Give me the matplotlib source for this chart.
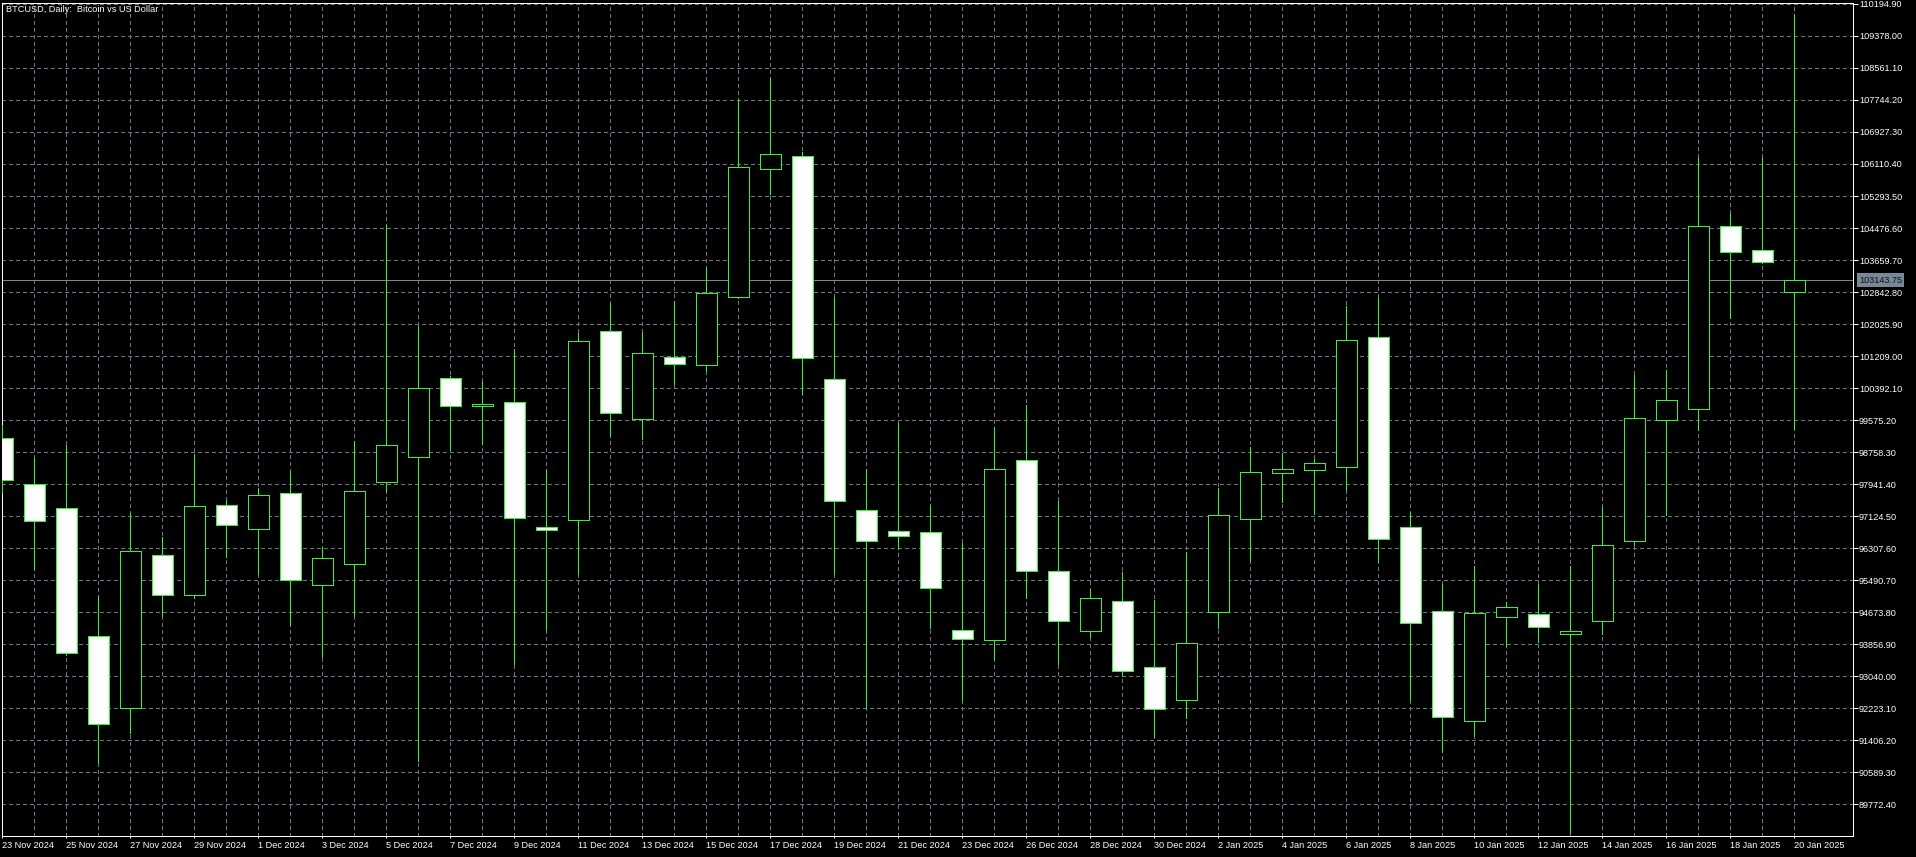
import numpy as np
import pandas as pd
import matplotlib
matplotlib.use('Agg')
import matplotlib.pyplot as plt
from matplotlib.ticker import FixedLocator

plt.rcParams['font.family'] = ['Liberation Sans', 'DejaVu Sans']

W, H, DPI = 1916, 857, 100
PX = 72.0 / DPI  # one pixel in points

# daily bars, the feed has no bar for 25 Dec and 1 Jan
dates = [d for d in pd.date_range('2024-11-23', '2025-01-20')
         if d.strftime('%m-%d') not in ('12-25', '01-01')]

opens = [99128, 97931, 97339, 94069, 92223, 96119, 95118, 97395, 96780, 97704,
         95355, 95892, 98000, 98628, 100655, 99933, 100022, 96854, 97012, 101857,
         99611, 101183, 100969, 102713, 105993, 106325, 100614, 97265, 96752, 96711,
         94204, 93951, 98544, 95731, 94191, 94944, 93270, 92415, 94671, 97040,
         98215, 98294, 98386, 101702, 96851, 94702, 91891, 94554, 94633, 94120,
         94444, 96486, 99580, 99851, 104528, 103905, 102850]
highs = [99450, 98605, 98935, 95072, 97204, 96599, 98717, 97533, 97829, 98286,
         96325, 99049, 104553, 101967, 100699, 100581, 101390, 98301, 101788, 102562,
         101822, 102608, 103486, 107772, 108296, 106417, 102723, 98335, 99509, 97395,
         96448, 99399, 99968, 97520, 95263, 95685, 94978, 96208, 97827, 98886,
         98738, 98590, 102478, 102715, 97216, 95378, 95838, 94919, 95378, 95838,
         97352, 100729, 100864, 106284, 104852, 106284, 109932]
lows = [97700, 95777, 93576, 90822, 91585, 94582, 95036, 96086, 95641, 94352,
        93522, 94559, 97773, 90878, 98820, 98963, 93344, 94209, 95646, 99167,
        99098, 100499, 100819, 102690, 105345, 100239, 95634, 92215, 96285, 94260,
        92415, 93474, 95034, 93359, 94033, 93040, 91480, 91958, 94260, 95968,
        97474, 97178, 97793, 95948, 92417, 91108, 91513, 93808, 93918, 89032,
        94107, 96377, 97160, 99322, 102189, 103580, 99351]
closes = [98038, 96997, 93625, 91822, 96223, 95105, 97372, 96895, 97671, 95493,
          96040, 97773, 98947, 100382, 99925, 99971, 97071, 96762, 101584, 99749,
          101298, 101002, 102815, 106029, 106358, 101150, 97502, 96489, 96614, 95287,
          93987, 98317, 95718, 94442, 95024, 93165, 92208, 93872, 97142, 98238,
          98317, 98478, 101610, 96540, 94403, 91999, 94661, 94809, 94296, 94189,
          96377, 99634, 100093, 104540, 103864, 103609, 103143.75]

last_price = 103143.75
price_ticks = [89772.40, 90589.30, 91406.20, 92223.10, 93040.00, 93856.90, 94673.80,
               95490.70, 96307.60, 97124.50, 97941.40, 98758.30, 99575.20, 100392.10,
               101209.00, 102025.90, 102842.80, 103659.70, 104476.60, 105293.50,
               106110.40, 106927.30, 107744.20, 108561.10, 109378.00, 110194.90]
title = 'BTCUSD, Daily:  Bitcoin vs US Dollar'

BG = 'black'
FG = 'white'
GRID = '#70767e'
BIDLINE = '#778899'
GREEN = '#38f038'
FS = 6.6

fig = plt.figure(figsize=(W / DPI, H / DPI), dpi=DPI, facecolor=BG)
# plot frame in pixels: x 2..1853, y 3..836
ax = fig.add_axes([2 / W, (H - 836) / H, 1851 / W, 833 / H])
ax.set_facecolor(BG)

x = np.arange(len(dates))
o = np.array(opens, float)
c = np.array(closes, float)
bull = c >= o
body_lo = np.minimum(o, c)
body_h = np.abs(c - o)

ax.vlines(x, lows, highs, color=GREEN, lw=PX, zorder=3, antialiased=False)
ax.bar(x, body_h, bottom=body_lo, width=0.66,
       color=np.where(bull, BG, FG), edgecolor=GREEN, linewidth=PX,
       zorder=4, antialiased=False)

# bid line
ax.axhline(last_price, color=BIDLINE, lw=PX, zorder=2)

ax.set_xlim(-0.3 / 32, 1850.7 / 32)
ax.set_ylim(88955.6, 110220.4)

# grid: one vertical line per bar, one horizontal per price label
ax.set_axisbelow(True)
ax.xaxis.set_minor_locator(FixedLocator(x))
ax.set_xticks(x[::2])
ax.set_xticklabels([f'{d.day} {d.strftime("%b %Y")}' for d in dates[::2]], ha='left')
ax.set_yticks(price_ticks)
ax.set_yticklabels([f'{v:.2f}' for v in price_ticks])
ax.grid(True, which='both', axis='x', color=GRID, lw=PX, ls=(0, (4, 4)), antialiased=False)
ax.grid(True, which='major', axis='y', color=GRID, lw=PX, ls=(0, (4, 4)), antialiased=False)

ax.yaxis.tick_right()
ax.tick_params(axis='y', which='major', colors=FG, length=5 * PX, width=PX,
               pad=1 * PX, labelsize=FS, direction='out')
ax.tick_params(axis='x', which='major', colors=FG, length=2.5 * PX, width=PX,
               pad=2.5 * PX, labelsize=FS, direction='out')
ax.tick_params(axis='x', which='minor', length=0)
for s in ax.spines.values():
    s.set_color(FG)
    s.set_linewidth(PX)

ax.annotate(f'{last_price:.2f}', xy=(1, last_price), xycoords=('axes fraction', 'data'),
            xytext=(6 * PX, 0), textcoords='offset points', ha='left', va='center',
            fontsize=FS, color='#101010', annotation_clip=False,
            bbox=dict(boxstyle='square,pad=0.25', fc=BIDLINE, ec='none'))

fig.text(6 / W, 1 - 9 / H, title, color=FG, fontsize=FS, ha='left', va='center')

fig.savefig('out.png', dpi=DPI, facecolor=BG)
